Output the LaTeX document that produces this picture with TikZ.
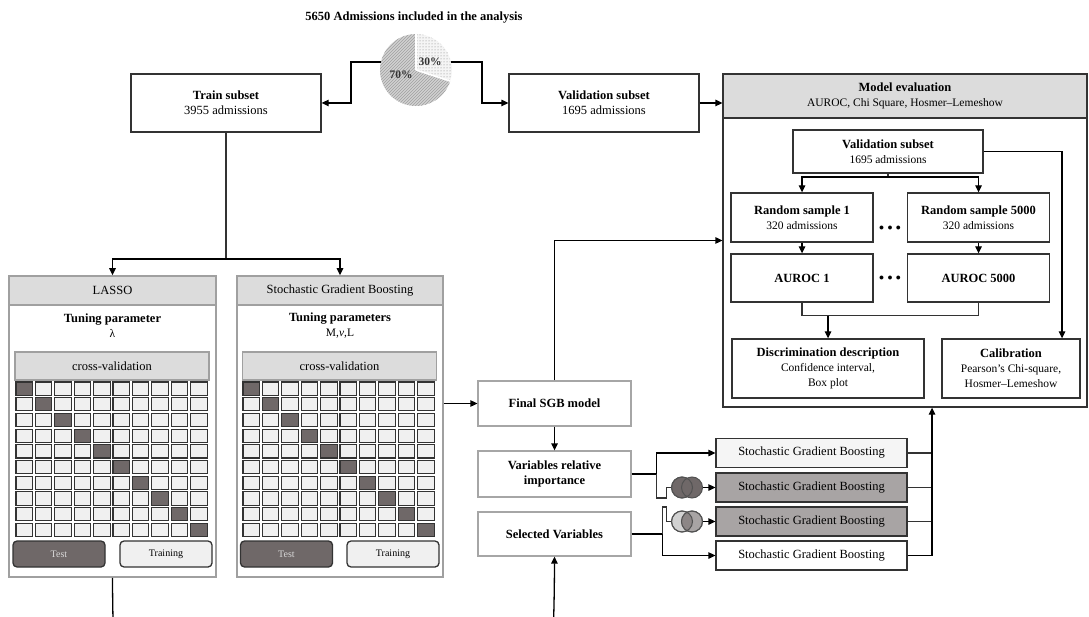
\documentclass[tikz,border=0pt]{standalone}
\usepackage{fontspec}
\setmainfont{Liberation Serif}
\usepackage{tikz}
\usetikzlibrary{
	arrows.meta,									% 提供各种箭头样式
	patterns,										% 填充图形
	positioning,									% 节点的高级摆放
}
\definecolor{lineC}{HTML}{333333}
\definecolor{frameC}{HTML}{A0A0A0}
\definecolor{headC}{HTML}{DCDCDC}
\definecolor{cellC}{HTML}{F0F0F0}
\definecolor{testC}{HTML}{6F6868}
\definecolor{modelC}{HTML}{A8A4A4}
\newcommand{\subsize}{\fontsize{11.5}{14}\selectfont}

\begin{document}
\begin{tikzpicture}[x=1pt,y=-1pt,line width=1.3pt,
		font=\fontsize{12.5}{15}\selectfont,
		>={Triangle[length=7pt,width=6.5pt]},
		box/.style={draw=lineC,fill=white,align=center,inner sep=0pt},
		panel/.style={draw=frameC,fill=white,inner sep=0pt,line width=1.5pt},
		header/.style={draw=frameC,fill=headC,inner sep=0pt,line width=1.5pt},
		btn/.style={draw=lineC,rounded corners=4pt,inner sep=0pt,minimum width=92,minimum height=26,font=\fontsize{10}{12}\selectfont},
		sgbbox/.style={box,minimum width=191,minimum height=29},
		venn/.style={circle,draw=lineC!85,line width=1pt,minimum size=21,inner sep=0pt},
		conn/.style={draw=lineC},
		dotrow/.style={font=\fontsize{10}{10}\selectfont},
	]
	\useasboundingbox (0,0) rectangle (1089,617);
	\clip (0,0) rectangle (1089,617);

	% 标题与饼图
	\node[font=\fontsize{12.5}{15}\selectfont\bfseries] (title) at (414,18) {5650 Admissions included in the analysis};
	\coordinate (pie) at (416,70);
	\fill[gray!35] (pie) -- ++(18:36) arc[start angle=18,end angle=270,radius=36] -- cycle;
	\fill[pattern=north east lines,pattern color=gray!75] (pie) -- ++(18:36) arc[start angle=18,end angle=270,radius=36] -- cycle;
	\fill[gray!8] (pie) -- ++(-90:36) arc[start angle=-90,end angle=18,radius=36] -- cycle;
	\fill[pattern=dots,pattern color=gray] (pie) -- ++(-90:36) arc[start angle=-90,end angle=18,radius=36] -- cycle;
	\draw[white,line width=1.6pt] (pie) -- ++(-90:36) (pie) -- ++(18:36);
	\node[font=\fontsize{11.5}{13}\selectfont\bfseries,text=lineC] (p30) at (430,62) {30\%};
	\node[font=\fontsize{11.5}{13}\selectfont\bfseries,text=lineC] (p70) at (401,75) {70\%};
	\coordinate (pieL) at (381,62);
	\coordinate (pieR) at (451,62);

	% 训练集与验证集
	\node[box,minimum width=190,minimum height=58] (train) at (226,103) {\textbf{Train subset}\\3955 admissions};
	\node[box,minimum width=190,minimum height=58] (valid) at (604,103) {\textbf{Validation subset}\\1695 admissions};
	\draw[->] (pieL) -- (351,62) |- (train.east);
	\draw[->] (pieR) -- (482,62) |- (valid.west);

	% 模型评估
	\node[box,minimum width=364,minimum height=333] (evalbox) at (905,240.5) {};
	\node[box,fill=headC,minimum width=364,minimum height=44] (evalhead) at (905,96) {\textbf{Model evaluation}\\{\subsize AUROC, Chi Square, Hosmer--Lemeshow}};
	\draw[->] (valid.east) -- (valid.east -| evalbox.west);
	\node[box,minimum width=190,minimum height=43] (vin) at (888,151.5) {\textbf{Validation subset}\\{\subsize 1695 admissions}};
	\node[box,minimum width=142,minimum height=49] (rs1) at (802,217.5) {\textbf{Random sample 1}\\{\subsize 320 admissions}};
	\node[box,minimum width=142,minimum height=49] (rs5000) at (978.5,217.5) {\textbf{Random sample 5000}\\{\subsize 320 admissions}};
	\node[box,minimum width=142,minimum height=48] (auc1) at (802,278) {\textbf{AUROC 1}};
	\node[box,minimum width=142,minimum height=48] (auc5000) at (978.5,278) {\textbf{AUROC 5000}};
	\node[dotrow] (dots1) at (890,228) {$\bullet$\,\,$\bullet$\,\,$\bullet$};
	\node[dotrow] (dots2) at (890,278) {$\bullet$\,\,$\bullet$\,\,$\bullet$};
	\node[box,minimum width=192,minimum height=59] (disc) at (828,368.5) {\textbf{Discrimination description}\\{\subsize Confidence interval,}\\{\subsize Box plot}};
	\node[box,minimum width=138,minimum height=59] (calib) at (1011,368.5) {\textbf{Calibration}\\{\subsize Pearson's Chi-square,}\\{\subsize Hosmer--Lemeshow}};
	\draw[conn] (vin.south) -- (888,177) coordinate (vsplit);
	\draw[->] (vsplit) -| (rs1.north);
	\draw[->] (vsplit) -| (rs5000.north);
	\draw[->] (rs1) -- (auc1);
	\draw[->] (rs5000) -- (auc5000);
	\draw[conn] (auc1.south) -- ++(0,13) -| (auc5000.south);
	\draw[->] (disc.north |- auc1.south) ++(0,13) -- (disc.north);
	\draw[->] (vin.east) -| ([xshift=51pt]calib.north);

	% LASSO 与 SGB 面板
	\node[panel,minimum width=207,minimum height=301] (lassopanel) at (112.5,426.5) {};
	\node[header,minimum width=207,minimum height=29] (lassohead) at (112.5,290.5) {LASSO};
	\node[align=center] (lassotune) at (112.5,326) {\textbf{Tuning parameter}\\{\subsize λ}};
	\node[header,line width=1.3pt,minimum width=194,minimum height=28] (lassocv) at (112,366) {cross-validation};
	\node[btn,fill=testC,text=gray!30] (lassotest) at (59,554) {Test};
	\node[btn,fill=cellC] (lassotrain) at (166,554) {Training};

	\node[panel,minimum width=206,minimum height=301] (sgbpanel) at (340,426.5) {};
	\node[header,minimum width=206,minimum height=29] (sgbhead) at (340,290.5) {Stochastic Gradient Boosting};
	\node[align=center] (sgbtune) at (340,326) {\textbf{Tuning parameters}\\{\subsize M,\textit{ν},L}};
	\node[header,line width=1.3pt,minimum width=194,minimum height=28] (sgbcv) at (339.5,366) {cross-validation};
	\node[btn,fill=testC,text=gray!30] (sgbtest) at (286.5,554) {Test};
	\node[btn,fill=cellC] (sgbtrain) at (393,554) {Training};

	% 交叉验证网格
	\foreach \gx in {16,243}{
		\foreach \i in {0,...,9}{
			\foreach \j in {0,...,9}{
				\ifnum\i=\j \def\cellfill{testC}\else\def\cellfill{cellC}\fi
				\draw[draw=lineC,line width=1.1pt,fill=\cellfill] (\gx+\i*19.4,382+\j*15.7) rectangle ++(16.5,13.2);
			}
		}
	}

	\coordinate (split) at (226,259);
	\draw[conn] (train.south) -- (split);
	\draw[->] (split) -| (lassohead.north);
	\draw[->] (split) -| (sgbhead.north);

	% 最终模型与变量
	\node[box,draw=gray!70,minimum width=153,minimum height=45] (final) at (554.5,403.5) {\textbf{Final SGB model}};
	\node[box,draw=gray!70,minimum width=153,minimum height=46] (vri) at (554.5,474) {\textbf{Variables relative}\\\textbf{importance}};
	\node[box,draw=gray!70,minimum width=153,minimum height=44] (selvar) at (554.5,534) {\textbf{Selected Variables}};
	\draw[->] (sgbpanel.east |- final.west) -- (final.west);
	\draw[->] (final.south) -- (vri.north);
	\draw[->] (final.north) |- (evalbox.west);
	\draw[->] (lassopanel.south) .. controls (115,1400) and (552,1400) .. (selvar.south);

	% SGB 模型组合
	\node[sgbbox,fill=gray!8] (sgb1) at (811.5,453) {Stochastic Gradient Boosting};
	\node[sgbbox,fill=modelC] (sgb2) at (811.5,487.5) {Stochastic Gradient Boosting};
	\node[sgbbox,fill=modelC] (sgb3) at (811.5,521.5) {Stochastic Gradient Boosting};
	\node[sgbbox] (sgb4) at (811.5,555.5) {Stochastic Gradient Boosting};

	\node[venn,fill=testC] (venn1a) at (682,487.5) {};
	\node[venn,fill=testC] (venn1b) at (692,487.5) {};
	\draw[lineC!85,line width=1pt] (venn1a) circle[radius=10.5];
	\node[venn,fill=gray!35] (venn2a) at (682,521.5) {};
	\node[venn,fill=modelC] (venn2b) at (692,521.5) {};
	\begin{scope}
		\clip (venn2a.center) circle[radius=10.5];
		\fill[testC!80] (venn2b.center) circle[radius=10.5];
	\end{scope}
	\draw[lineC!85,line width=1pt] (venn2a) circle[radius=10.5] (venn2b) circle[radius=10.5];

	\draw[->] (vri.east) -- ++(25,0) coordinate (vj) |- (sgb1.west);
	\draw[conn] (vj) -- ++(0,24) -- ++(10,0) |- (venn1a.west);
	\draw[->] (selvar.east) -- ++(31,0) coordinate (sj) |- (sgb4.west);
	\draw[conn] (sj) -- ++(0,-27) -- ++(4,0) |- (venn2a.west);
	\draw[->] (venn1b.east) -- (sgb2.west);
	\draw[->] (venn2b.east) -- (sgb3.west);

	\coordinate (rbus) at (932,0);
	\foreach \n in {sgb1,sgb2,sgb3}
		\draw[conn] (\n.east) -- (\n.east -| rbus);
	\draw[->] (sgb4.east) -| (rbus |- evalbox.south);
\end{tikzpicture}
\end{document}
